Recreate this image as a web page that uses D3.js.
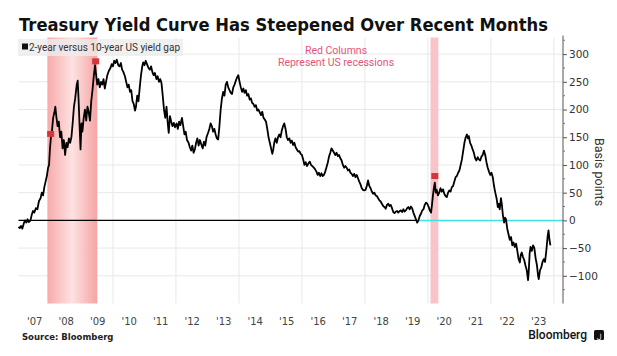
<!DOCTYPE html>
<html><head><meta charset="utf-8">
<script src="https://cdn.jsdelivr.net/npm/d3@7"></script>
<style>html,body{margin:0;padding:0;background:#fff;}svg{display:block;}</style>
</head><body>
<svg id="chart" width="617" height="356"></svg>
<script>
// ---- data ----
const title = "Treasury Yield Curve Has Steepened Over Recent Months";
const seriesName = "2-year versus 10-year US yield gap";
const yearLabels = ["'07","'08","'09","'10","'11","'12","'13","'14","'15","'16","'17","'18","'19","'20","'21","'22","'23"];
const yTicks = [300,250,200,150,100,50,0,-50,-100];
const recessions = [[2007.917, 2009.5],[2020.083, 2020.333]];
const markers = [[2008.02,156],[2009.45,287],[2020.22,80]];
const inversionStart = 2019.65;
const dates = [];
const spread = [];
const raw = [
[2007.00,-12],[2007.04,-14],[2007.08,-10],[2007.12,-15],[2007.17,-5],[2007.21,0],[2007.25,-4],[2007.29,2],[2007.33,-3],[2007.38,0],[2007.42,10],[2007.46,17],[2007.50,14],[2007.55,22],[2007.60,20],[2007.65,35],[2007.70,40],[2007.74,50],[2007.78,45],[2007.82,60],[2007.86,70],[2007.90,80],[2007.94,95],[2007.97,100],
[2008.00,130],[2008.03,150],[2008.06,160],[2008.10,185],[2008.14,195],[2008.17,205],[2008.20,188],[2008.24,170],[2008.28,178],[2008.32,150],[2008.36,160],[2008.40,130],[2008.44,145],[2008.48,118],[2008.52,140],[2008.56,132],[2008.60,148],[2008.64,140],[2008.68,150],[2008.72,175],[2008.76,205],[2008.80,220],[2008.85,245],[2008.88,252],[2008.91,215],[2008.94,170],[2008.97,128],
[2009.00,175],[2009.03,160],[2009.07,185],[2009.11,200],[2009.15,180],[2009.19,205],[2009.23,195],[2009.27,180],[2009.31,215],[2009.35,235],[2009.39,260],[2009.43,280],[2009.46,265],[2009.50,245],[2009.54,255],[2009.58,240],[2009.62,250],[2009.66,245],[2009.70,255],[2009.74,238],[2009.78,250],[2009.82,262],[2009.87,270],[2009.92,275],[2009.96,282],
[2010.00,278],[2010.04,288],[2010.08,284],[2010.12,290],[2010.17,280],[2010.21,278],[2010.25,284],[2010.29,272],[2010.33,268],[2010.38,260],[2010.42,250],[2010.46,240],[2010.50,245],[2010.54,232],[2010.58,235],[2010.62,215],[2010.66,210],[2010.70,198],[2010.73,205],[2010.77,225],[2010.81,215],[2010.85,240],[2010.89,262],[2010.93,278],[2010.96,285],
[2011.00,280],[2011.04,288],[2011.08,282],[2011.12,276],[2011.17,272],[2011.21,278],[2011.25,268],[2011.29,262],[2011.33,266],[2011.38,255],[2011.42,260],[2011.46,250],[2011.50,255],[2011.54,248],[2011.58,225],[2011.62,200],[2011.66,185],[2011.70,205],[2011.74,175],[2011.77,158],[2011.81,188],[2011.85,178],[2011.89,170],[2011.93,176],[2011.97,168],
[2012.02,175],[2012.06,165],[2012.10,178],[2012.14,172],[2012.19,185],[2012.23,170],[2012.27,155],[2012.31,160],[2012.35,145],[2012.40,140],[2012.44,132],[2012.48,126],[2012.52,135],[2012.56,122],[2012.60,128],[2012.64,140],[2012.68,148],[2012.72,135],[2012.76,145],[2012.80,138],[2012.85,130],[2012.89,142],[2012.93,135],[2012.97,150],
[2013.02,158],[2013.06,165],[2013.10,175],[2013.14,170],[2013.18,160],[2013.22,165],[2013.26,155],[2013.30,148],[2013.34,146],[2013.38,170],[2013.42,200],[2013.46,220],[2013.50,232],[2013.54,225],[2013.58,245],[2013.62,250],[2013.66,240],[2013.70,235],[2013.74,230],[2013.78,228],[2013.82,240],[2013.86,245],[2013.90,252],[2013.94,258],[2013.98,262],
[2014.02,250],[2014.06,240],[2014.10,232],[2014.14,238],[2014.18,230],[2014.22,235],[2014.26,225],[2014.30,228],[2014.34,218],[2014.38,220],[2014.42,212],[2014.46,210],[2014.50,205],[2014.54,208],[2014.58,198],[2014.62,200],[2014.66,195],[2014.70,190],[2014.74,196],[2014.78,185],[2014.82,182],[2014.86,178],[2014.90,165],[2014.94,150],[2014.98,140],
[2015.02,130],[2015.06,120],[2015.09,128],[2015.12,140],[2015.16,148],[2015.20,140],[2015.24,150],[2015.28,155],[2015.32,150],[2015.36,162],[2015.40,170],[2015.44,175],[2015.48,165],[2015.52,150],[2015.56,145],[2015.60,148],[2015.64,140],[2015.68,144],[2015.72,136],[2015.76,140],[2015.80,132],[2015.84,128],[2015.88,124],[2015.92,125],[2015.96,120],
[2016.00,118],[2016.04,110],[2016.08,100],[2016.12,105],[2016.16,98],[2016.20,102],[2016.25,106],[2016.29,100],[2016.33,98],[2016.38,95],[2016.42,92],[2016.46,88],[2016.50,82],[2016.54,86],[2016.58,80],[2016.62,85],[2016.66,80],[2016.70,82],[2016.74,88],[2016.78,96],[2016.82,104],[2016.86,115],[2016.90,122],[2016.94,130],[2016.98,126],
[2017.02,122],[2017.06,118],[2017.10,122],[2017.14,116],[2017.18,118],[2017.22,112],[2017.26,108],[2017.30,100],[2017.34,95],[2017.38,98],[2017.42,95],[2017.46,90],[2017.50,92],[2017.54,86],[2017.58,84],[2017.62,80],[2017.66,84],[2017.70,78],[2017.74,82],[2017.78,76],[2017.82,70],[2017.86,65],[2017.90,58],[2017.94,55],[2017.98,54],
[2018.02,55],[2018.06,62],[2018.10,72],[2018.14,62],[2018.18,58],[2018.22,52],[2018.26,48],[2018.30,50],[2018.34,45],[2018.38,44],[2018.42,40],[2018.46,36],[2018.50,34],[2018.54,30],[2018.58,26],[2018.62,24],[2018.66,21],[2018.70,28],[2018.74,30],[2018.78,26],[2018.82,28],[2018.86,22],[2018.90,15],[2018.94,13],[2018.98,16],
[2019.02,17],[2019.06,14],[2019.10,17],[2019.14,18],[2019.18,15],[2019.22,20],[2019.26,16],[2019.30,18],[2019.34,22],[2019.38,24],[2019.42,20],[2019.46,25],[2019.50,22],[2019.54,14],[2019.58,8],[2019.62,2],[2019.66,-4],[2019.70,0],[2019.74,8],[2019.78,12],[2019.82,18],[2019.86,20],[2019.90,28],[2019.94,32],[2019.98,30],
[2020.02,25],[2020.06,18],[2020.10,14],[2020.13,28],[2020.16,45],[2020.19,58],[2020.22,68],[2020.25,50],[2020.28,55],[2020.32,45],[2020.36,50],[2020.40,58],[2020.44,52],[2020.48,56],[2020.52,48],[2020.56,44],[2020.60,42],[2020.64,50],[2020.68,54],[2020.72,52],[2020.76,60],[2020.80,62],[2020.84,70],[2020.88,78],[2020.92,80],[2020.96,86],
[2021.00,90],[2021.04,100],[2021.08,110],[2021.12,125],[2021.16,140],[2021.20,150],[2021.24,155],[2021.27,148],[2021.30,152],[2021.34,140],[2021.38,135],[2021.42,128],[2021.46,122],[2021.50,112],[2021.54,108],[2021.58,114],[2021.62,110],[2021.66,108],[2021.70,115],[2021.74,118],[2021.78,126],[2021.82,118],[2021.86,105],[2021.90,95],[2021.94,88],[2021.98,82],
[2022.02,86],[2022.06,78],[2022.10,62],[2022.14,50],[2022.18,40],[2022.22,24],[2022.25,30],[2022.28,20],[2022.32,40],[2022.35,28],[2022.38,10],[2022.42,-4],[2022.45,5],[2022.48,2],[2022.52,-15],[2022.56,-25],[2022.60,-35],[2022.64,-30],[2022.68,-45],[2022.72,-40],[2022.76,-48],[2022.80,-42],[2022.84,-55],[2022.88,-70],[2022.92,-76],[2022.95,-62],[2022.98,-58],
[2023.02,-66],[2023.06,-72],[2023.10,-82],[2023.14,-90],[2023.18,-108],[2023.20,-95],[2023.23,-60],[2023.26,-48],[2023.30,-55],[2023.34,-45],[2023.38,-50],[2023.42,-68],[2023.46,-80],[2023.50,-100],[2023.52,-106],[2023.56,-90],[2023.60,-85],[2023.64,-75],[2023.68,-70],[2023.72,-75],[2023.76,-55],[2023.80,-30],[2023.83,-18],[2023.86,-35],[2023.89,-45]
];
raw.forEach(d => { dates.push(d[0]); spread.push(d[1]); });

// ---- chart ----
const svg = d3.select("#chart");
const x = d3.scaleLinear().domain([2007, 2024.29]).range([18.5, 563]);
const y = d3.scaleLinear().domain([-150, 330]).range([303.5, 37.5]);
const yTop = y(330), yBot = y(-150);

const defs = svg.append("defs");
const grad = defs.append("linearGradient").attr("id","recGrad").attr("x1","0").attr("x2","1").attr("y1","0").attr("y2","0");
grad.append("stop").attr("offset","0%").attr("stop-color","#f8aaaa");
grad.append("stop").attr("offset","50%").attr("stop-color","#fde2e2");
grad.append("stop").attr("offset","100%").attr("stop-color","#f6a3a3");

// grid
svg.append("g").selectAll("line").data(d3.range(2008, 2025, 2)).join("line")
  .attr("x1", d => x(d)).attr("x2", d => x(d)).attr("y1", yTop).attr("y2", yBot)
  .attr("stroke", "#e8e8e8").attr("stroke-width", 1);
svg.append("g").selectAll("line").data(yTicks.filter(d => d !== 0)).join("line")
  .attr("x1", x(2007)).attr("x2", x.range()[1]).attr("y1", d => y(d)).attr("y2", d => y(d))
  .attr("stroke", "#e8e8e8").attr("stroke-width", 1);

// recession bands
svg.append("g").selectAll("rect").data(recessions).join("rect")
  .attr("x", d => x(d[0])).attr("width", d => x(d[1]) - x(d[0]))
  .attr("y", yTop).attr("height", yBot - yTop)
  .attr("fill", (d,i) => i === 0 ? "url(#recGrad)" : "#f9c3c8");

// legend background
svg.append("rect").attr("x", 18).attr("y", 39).attr("width", 165).attr("height", 17)
  .attr("fill", "#ececec").attr("opacity", 0.8);

// zero line
svg.append("line").attr("x1", x(2007)).attr("x2", x(inversionStart)).attr("y1", y(0)).attr("y2", y(0))
  .attr("stroke", "#000").attr("stroke-width", 1.3);
svg.append("line").attr("x1", x(inversionStart)).attr("x2", x.range()[1]).attr("y1", y(0)).attr("y2", y(0))
  .attr("stroke", "#3fe3e6").attr("stroke-width", 1.5);

// data line
const line = d3.line().x((d,i) => x(dates[i])).y((d,i) => y(spread[i])).curve(d3.curveLinear);
svg.append("path").datum(spread).attr("d", line)
  .attr("fill", "none").attr("stroke", "#000").attr("stroke-width", 1.8).attr("stroke-linejoin", "round");

// markers
svg.append("g").selectAll("rect").data(markers).join("rect")
  .attr("x", d => x(d[0]) - 3.5).attr("y", d => y(d[1]) - 3).attr("width", 7).attr("height", 6)
  .attr("fill", "#d7353c");

// right axis
const axis = d3.axisRight(y).tickValues(yTicks).tickSize(4).tickPadding(2).tickFormat(d3.format("d"));
const ag = svg.append("g").attr("transform", `translate(${x.range()[1]},0)`).call(axis);
ag.select(".domain").attr("d", `M0,${yTop - 2}V${yBot}`).attr("stroke", "#555");
ag.selectAll(".tick line").attr("stroke", "#555");
ag.selectAll(".tick text").attr("font-family", "DejaVu Sans, sans-serif").attr("font-size", 10.5).attr("fill", "#333");
const minor = d3.range(-125, 331, 25).filter(d => d % 50 !== 0);
svg.append("g").selectAll("line").data(minor).join("line")
  .attr("x1", x.range()[1]).attr("x2", x.range()[1] + 2).attr("y1", d => y(d)).attr("y2", d => y(d))
  .attr("stroke", "#777");

// x axis labels
const xa = d3.axisBottom(x).tickValues(yearLabels.map((d,i) => 2007.5 + i)).tickSize(0).tickPadding(0)
  .tickFormat((d,i) => yearLabels[i]);
const xg = svg.append("g").attr("transform", "translate(0,318)").call(xa);
xg.select(".domain").remove();
xg.selectAll(".tick text").attr("font-family", "DejaVu Sans, sans-serif").attr("font-size", 10).attr("fill", "#444");

// title
const t = svg.append("text").attr("x", 19).attr("y", 31).text(title)
  .attr("font-family", "DejaVu Sans, sans-serif").attr("font-weight", "bold").attr("font-size", 17.5).attr("fill", "#111");
if (t.node().getComputedTextLength() > 529) t.attr("textLength", 529).attr("lengthAdjust", "spacingAndGlyphs");

// legend
svg.append("rect").attr("x", 22).attr("y", 43.5).attr("width", 6).attr("height", 6).attr("fill", "#111");
const lt = svg.append("text").attr("x", 29).attr("y", 51).text(seriesName)
  .attr("font-family", "Roboto, sans-serif").attr("font-size", 10).attr("fill", "#333");
lt.attr("textLength", 151).attr("lengthAdjust", "spacingAndGlyphs");

// annotation
const ann = svg.append("g").attr("font-family", "Roboto, sans-serif").attr("font-size", 10.5).attr("fill", "#e4557a").attr("text-anchor", "middle");
ann.append("text").attr("x", 336).attr("y", 54).text("Red Columns");
ann.append("text").attr("x", 336).attr("y", 66).text("Represent US recessions");

// y title
svg.append("text").attr("transform", "translate(595,172) rotate(90)").attr("text-anchor", "middle")
  .attr("font-family", "Roboto, sans-serif").attr("font-size", 12.5).attr("fill", "#333").text("Basis points");

// source
svg.append("text").attr("x", 22).attr("y", 340).text("Source: Bloomberg")
  .attr("font-family", "DejaVu Sans, sans-serif").attr("font-weight", "bold").attr("font-size", 8.5).attr("fill", "#222");

// Bloomberg brand
svg.append("text").attr("x", 587).attr("y", 339).attr("text-anchor", "end").text("Bloomberg")
  .attr("font-family", "Roboto, sans-serif").attr("font-weight", 500).attr("font-size", 12).attr("fill", "#111");
svg.append("rect").attr("x", 594).attr("y", 330).attr("width", 10).attr("height", 10).attr("rx", 1.5).attr("fill", "#111");
svg.append("text").attr("x", 599).attr("y", 338.5).attr("text-anchor", "middle").text("\u0644")
  .attr("font-family", "DejaVu Sans, sans-serif").attr("font-size", 7).attr("fill", "#fff");
</script>
</body></html>
